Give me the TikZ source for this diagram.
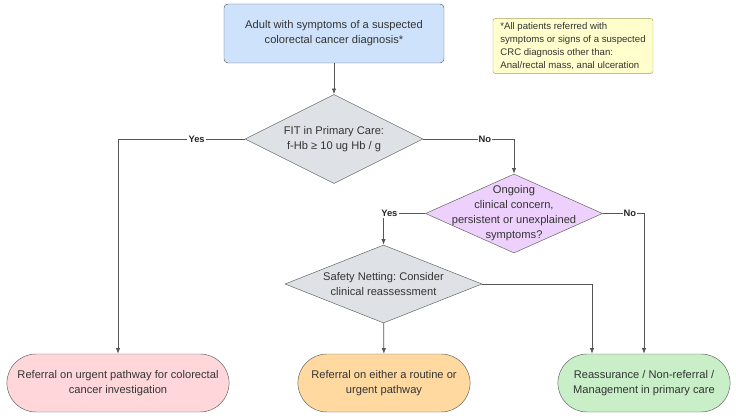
\documentclass[tikz,border=0pt]{standalone}
\usepackage{fontspec}
\setmainfont{Liberation Sans}
\usetikzlibrary{positioning, arrows.meta, shapes.geometric, shapes.misc}
\definecolor{linegrey}{RGB}{85,85,85}
\definecolor{edgegrey}{RGB}{95,95,95}
\definecolor{textgrey}{RGB}{51,51,51}
\definecolor{startblue}{RGB}{206,226,251}
\definecolor{noteyellow}{RGB}{255,254,204}
\definecolor{noteedge}{RGB}{170,160,90}
\definecolor{decgrey}{RGB}{222,225,230}
\definecolor{decpurple}{RGB}{237,208,252}
\definecolor{endpink}{RGB}{255,215,218}
\definecolor{endorange}{RGB}{255,217,160}
\definecolor{endgreen}{RGB}{200,239,200}
\frenchspacing

\begin{document}
\begin{tikzpicture}[x=0.3mm, y=-0.3mm,
    every node/.style={text=textgrey, font=\fontsize{9.5}{12.8}\selectfont},
    startbox/.style={draw=edgegrey, fill=startblue, rounded corners=1.2mm, minimum width=66mm, minimum height=17.7mm, align=center},
    notebox/.style={draw=noteedge, fill=noteyellow, rounded corners=0.6mm, minimum width=48mm, minimum height=16.2mm, align=left, font=\fontsize{8.2}{11}\selectfont},
    decision/.style={diamond, draw=edgegrey, inner sep=0pt},
    dectext/.style={align=center},
    outcome/.style={rounded rectangle, draw=edgegrey, minimum height=17.4mm, align=center},
    flow/.style={draw=linegrey, line width=0.6pt, -{Latex[length=1.7mm, width=1.3mm]}},
    answer/.style={font=\fontsize{8}{9}\selectfont\bfseries, fill=white, inner sep=1pt, text=black!85}]
    \useasboundingbox (0,0) rectangle (736,416);

    % Start and note
    \node[startbox] (start) at (334,33.5) {Adult with symptoms of a suspected\\colorectal cancer diagnosis*};
    \node[notebox] (note) at (573,46) {*All patients referred with\\symptoms or signs of a suspected\\CRC diagnosis other than:\\Anal/rectal mass, anal ulceration};

    % Decisions
    \node[decision, fill=decgrey, minimum width=53.4mm, minimum height=26.7mm,
        label={[dectext]center:FIT in Primary Care:\\f-Hb ≥ 10 ug Hb / g}] (fit) at (334,139) {};
    \node[decision, fill=decpurple, minimum width=53.1mm, minimum height=23.7mm,
        label={[dectext]center:Ongoing\\clinical concern,\\persistent or unexplained\\symptoms?}] (concern) at (514,213.5) {};
    \node[decision, fill=decgrey, minimum width=59.1mm, minimum height=23.4mm,
        label={[dectext]center:Safety Netting: Consider\\clinical reassessment}] (safety) at (383.5,284) {};

    % Outcomes
    \node[outcome, fill=endpink, minimum width=69mm] (urgent) at (118,383) {Referral on urgent pathway for colorectal\\cancer investigation};
    \node[outcome, fill=endorange, minimum width=54mm] (either) at (384,383) {Referral on either a routine or\\urgent pathway};
    \node[outcome, fill=endgreen, minimum width=54mm] (reassure) at (644,383) {Reassurance / Non-referral /\\Management in primary care};

    % Connectors
    \draw[flow] (start) -- (fit);
    \draw[flow] (fit.west) -| node[answer, pos=0.19] {Yes} (urgent.north);
    \draw[flow] (fit.east) -| node[answer, pos=0.34] {No} (concern.north);
    \draw[flow] (concern.west) -| node[answer, pos=0.43] {Yes} (safety.north);
    \draw[flow] (concern.east) -| node[answer, pos=0.33] {No} (reassure.north);
    \draw[flow] (safety.east) -| ([xshift=-15.6mm]reassure.north);
    \draw[flow] (safety) -- (either);
\end{tikzpicture}
\end{document}
